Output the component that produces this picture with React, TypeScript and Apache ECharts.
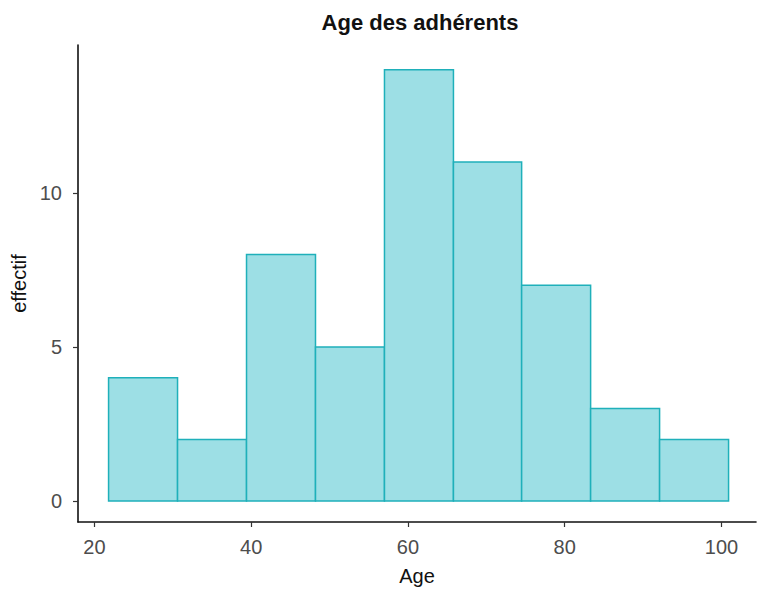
import React, { useEffect, useRef } from "react";
import * as echarts from "echarts";

const binStarts = [21.8, 30.6, 39.4, 48.2, 57.0, 65.8, 74.5, 83.3, 92.1];
const binEnds = [30.6, 39.4, 48.2, 57.0, 65.8, 74.5, 83.3, 92.1, 100.9];
const counts = [4, 2, 8, 5, 14, 11, 7, 3, 2];
const xTicks = [20, 40, 60, 80, 100];
const yTicks = [0, 5, 10];

const FONT = "'Liberation Sans', Arial, sans-serif";

export default function App() {
  const ref = useRef<HTMLDivElement>(null);
  useEffect(() => {
    if (!ref.current) return;
    const chart = echarts.init(ref.current, null, { renderer: "svg" });
    const data = counts.map((c, i) => [binStarts[i], binEnds[i], c]);
    chart.setOption({
      animation: false,
      backgroundColor: "#ffffff",
      title: {
        text: "Age des adhérents",
        left: 415,
        textAlign: "center",
        top: 6,
        textStyle: { fontFamily: FONT, fontSize: 22, fontWeight: "bold", color: "#111" },
      },
      grid: { left: 78, right: 9, top: 45, bottom: 78, containLabel: false },
      xAxis: {
        type: "value",
        min: 17.9,
        max: 104.4,
        name: "Age",
        nameLocation: "middle",
        nameGap: 44,
        nameTextStyle: { fontFamily: FONT, fontSize: 20, color: "#111", verticalAlign: "top" },
        axisLine: { show: true, onZero: false, lineStyle: { color: "#111", width: 1.6 } },
        axisTick: { show: true, length: 5, customValues: xTicks, lineStyle: { color: "#333", width: 1.2 } },
        axisLabel: { customValues: xTicks, margin: 15, fontFamily: FONT, fontSize: 20, color: "#4d4d4d" },
        splitLine: { show: false },
      },
      yAxis: {
        type: "value",
        min: -0.68,
        max: 14.8,
        name: "effectif",
        nameLocation: "middle",
        nameGap: 48,
        nameTextStyle: { fontFamily: FONT, fontSize: 20, color: "#111" },
        axisLine: { show: true, onZero: false, lineStyle: { color: "#111", width: 1.6 } },
        axisTick: { show: true, length: 5, customValues: yTicks, lineStyle: { color: "#333", width: 1.2 } },
        axisLabel: { customValues: yTicks, margin: 16, fontFamily: FONT, fontSize: 20, color: "#4d4d4d" },
        splitLine: { show: false },
      },
      series: [
        {
          type: "custom",
          data,
          encode: { x: [0, 1], y: 2 },
          renderItem: (params: any, api: any) => {
            const p0 = api.coord([api.value(0), api.value(2)]);
            const p1 = api.coord([api.value(1), 0]);
            return {
              type: "rect",
              shape: { x: p0[0], y: p0[1], width: p1[0] - p0[0], height: p1[1] - p0[1] },
              style: { fill: "#9ddfe5", stroke: "#1fb0ba", lineWidth: 1.5 },
            };
          },
        },
      ],
    });
    return () => chart.dispose();
  }, []);
  return <div ref={ref} style={{ width: 765, height: 600, position: "absolute", left: 0, top: 0 }} />;
}
